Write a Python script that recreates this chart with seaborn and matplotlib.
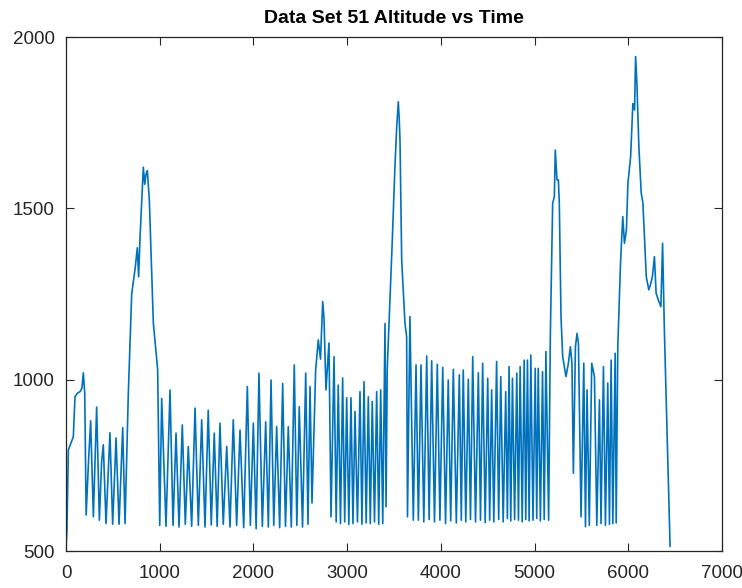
import matplotlib
matplotlib.use("Agg")
import matplotlib.pyplot as plt
import seaborn as sns
import pandas as pd

title = "Data Set 51 Altitude vs Time"
x_ticks = [0, 1000, 2000, 3000, 4000, 5000, 6000, 7000]
y_ticks = [500, 1000, 1500, 2000]

time_a = [0, 10, 25, 60, 78, 96, 120, 150, 170, 185, 200, 215, 240, 263, 292, 310, 327, 356,
          380, 398, 427, 469, 498, 534, 566, 605, 630, 665, 701, 740, 761, 775, 790, 825,
          840, 854, 868, 889, 932, 978, 1000]
alt_a = [510, 560, 795, 820, 833, 950, 960, 965, 975, 1020, 960, 605, 760, 880, 600, 760, 920, 590,
         760, 810, 580, 845, 578, 830, 578, 860, 580, 960, 1250, 1330, 1385, 1300, 1415, 1620,
         1570, 1600, 1610, 1525, 1165, 1030, 575]

time_b = [1021, 1067, 1110, 1142, 1174, 1206, 1241, 1273, 1305, 1341, 1377, 1412, 1448, 1483,
          1518, 1550, 1582, 1613, 1643, 1678, 1715, 1750, 1785, 1821, 1857, 1896, 1935, 1967,
          1999, 2029, 2059, 2095, 2131, 2159, 2188, 2217, 2248, 2280, 2312, 2342, 2372, 2404,
          2436, 2463, 2489, 2524, 2558, 2582, 2604, 2625, 2664, 2692, 2716, 2739, 2753, 2774,
          2806, 2828]
alt_b = [945, 572, 970, 575, 844, 570, 868, 578, 805, 572, 917, 575, 883, 570,
         911, 576, 844, 572, 873, 578, 805, 570, 883, 575, 853, 568, 980, 575,
         873, 565, 1019, 572, 877, 570, 999, 575, 863, 568, 989, 572, 863, 570,
         1043, 575, 921, 570, 1019, 578, 980, 640, 1028, 1116, 1060, 1228, 1180, 970,
         1107, 600]

time_c = [2860, 2883, 2905, 2929, 2952, 2974, 2995, 3018, 3041, 3062, 3084, 3110, 3137, 3158,
          3180, 3203, 3226, 3247, 3268, 3292, 3315, 3337, 3358, 3380, 3404, 3415, 3428, 3465,
          3482, 3510, 3529, 3546, 3556, 3564, 3582, 3617, 3635, 3644, 3670, 3706]
alt_c = [1067, 585, 984, 580, 1005, 585, 947, 578, 947, 580, 907, 585, 965, 578,
         994, 582, 950, 580, 936, 585, 965, 578, 970, 580, 1164, 629, 1033, 1291,
         1408, 1622, 1738, 1811, 1760, 1700, 1349, 1165, 1125, 600, 1184, 590]

time_e = [3735, 3760, 3788, 3818, 3849, 3875, 3902, 3932, 3962, 3990, 4020, 4050, 4079, 4105,
          4133, 4165, 4197, 4218, 4239, 4266, 4293, 4316, 4340, 4370, 4400, 4423, 4446, 4473,
          4500, 4521, 4542, 4565, 4595, 4617, 4639, 4665, 4692, 4710, 4728, 4746, 4764, 4787,
          4810, 4828, 4846, 4868, 4889, 4906, 4924, 4942, 4960, 4983, 5007, 5023, 5039, 5062,
          5085, 5103, 5121, 5150]
alt_e = [1043, 590, 1043, 585, 1069, 592, 1055, 585, 1045, 590, 1036, 580, 999, 588,
         1030, 582, 1014, 590, 1028, 585, 1001, 592, 1067, 585, 1020, 590, 1048, 583,
         1004, 590, 970, 585, 1053, 592, 1009, 585, 965, 595, 1038, 588, 1004, 592,
         1019, 590, 1038, 585, 1057, 592, 1057, 588, 1072, 590, 1033, 595, 1033, 588,
         1023, 592, 1082, 590]

time_f = [5168, 5193, 5211, 5221, 5239, 5254, 5264, 5282, 5300, 5335, 5361, 5382, 5399, 5414,
          5436, 5453, 5468, 5496, 5525, 5543, 5560, 5584, 5610, 5639, 5664, 5692, 5709, 5735,
          5756, 5781, 5799, 5817, 5835, 5860, 5871, 5888, 5917, 5941, 5959, 5980, 5996, 6025,
          6049, 6067, 6078, 6092, 6113, 6138, 6156, 6192, 6219, 6240, 6257, 6279, 6297, 6320,
          6348, 6366, 6385, 6446]
alt_f = [1125, 1515, 1534, 1670, 1583, 1583, 1515, 1184, 1067, 1009, 1048, 1096, 1048, 727,
         1096, 1135, 1106, 600, 1048, 571, 970, 575, 1048, 1009, 575, 941, 580, 1038,
         575, 990, 578, 1057, 580, 1077, 582, 1096, 1340, 1476, 1398, 1437, 1573, 1651,
         1806, 1787, 1943, 1865, 1680, 1544, 1515, 1300, 1262, 1281, 1300, 1359, 1252, 1233,
         1213, 1398, 1145, 513]

time = time_a + time_b + time_c + time_e + time_f
altitude = alt_a + alt_b + alt_c + alt_e + alt_f
df = pd.DataFrame({"time": time, "altitude": altitude})

sns.set_theme(style="white")
plt.rcParams['font.family'] = ['Liberation Sans', 'DejaVu Sans']

fig = plt.figure(figsize=(7.42, 5.88), dpi=100)
ax = fig.add_axes([66 / 742, 37 / 588, 656 / 742, 514 / 588])

sns.lineplot(data=df, x="time", y="altitude", ax=ax, color="#0072BD",
             linewidth=1.2, estimator=None, sort=False)

ax.set_xlim(0, 7000)
ax.set_ylim(500, 2000)
ax.set_xticks(x_ticks)
ax.set_yticks(y_ticks)
ax.set_xlabel("")
ax.set_ylabel("")
edge = (0.15, 0.15, 0.15)
for s in ax.spines.values():
    s.set_color(edge)
    s.set_linewidth(0.9)
    s.set_visible(True)
ax.tick_params(direction="in", length=6, width=0.8, colors=edge, labelcolor=edge,
               labelsize=13.5, top=True, right=True, bottom=True, left=True)
ax.tick_params(axis="x", pad=10)
ax.tick_params(axis="y", pad=8)
ax.set_title(title, fontsize=14, fontweight="bold", color="black", pad=10)

fig.savefig("out.png", dpi=100)
